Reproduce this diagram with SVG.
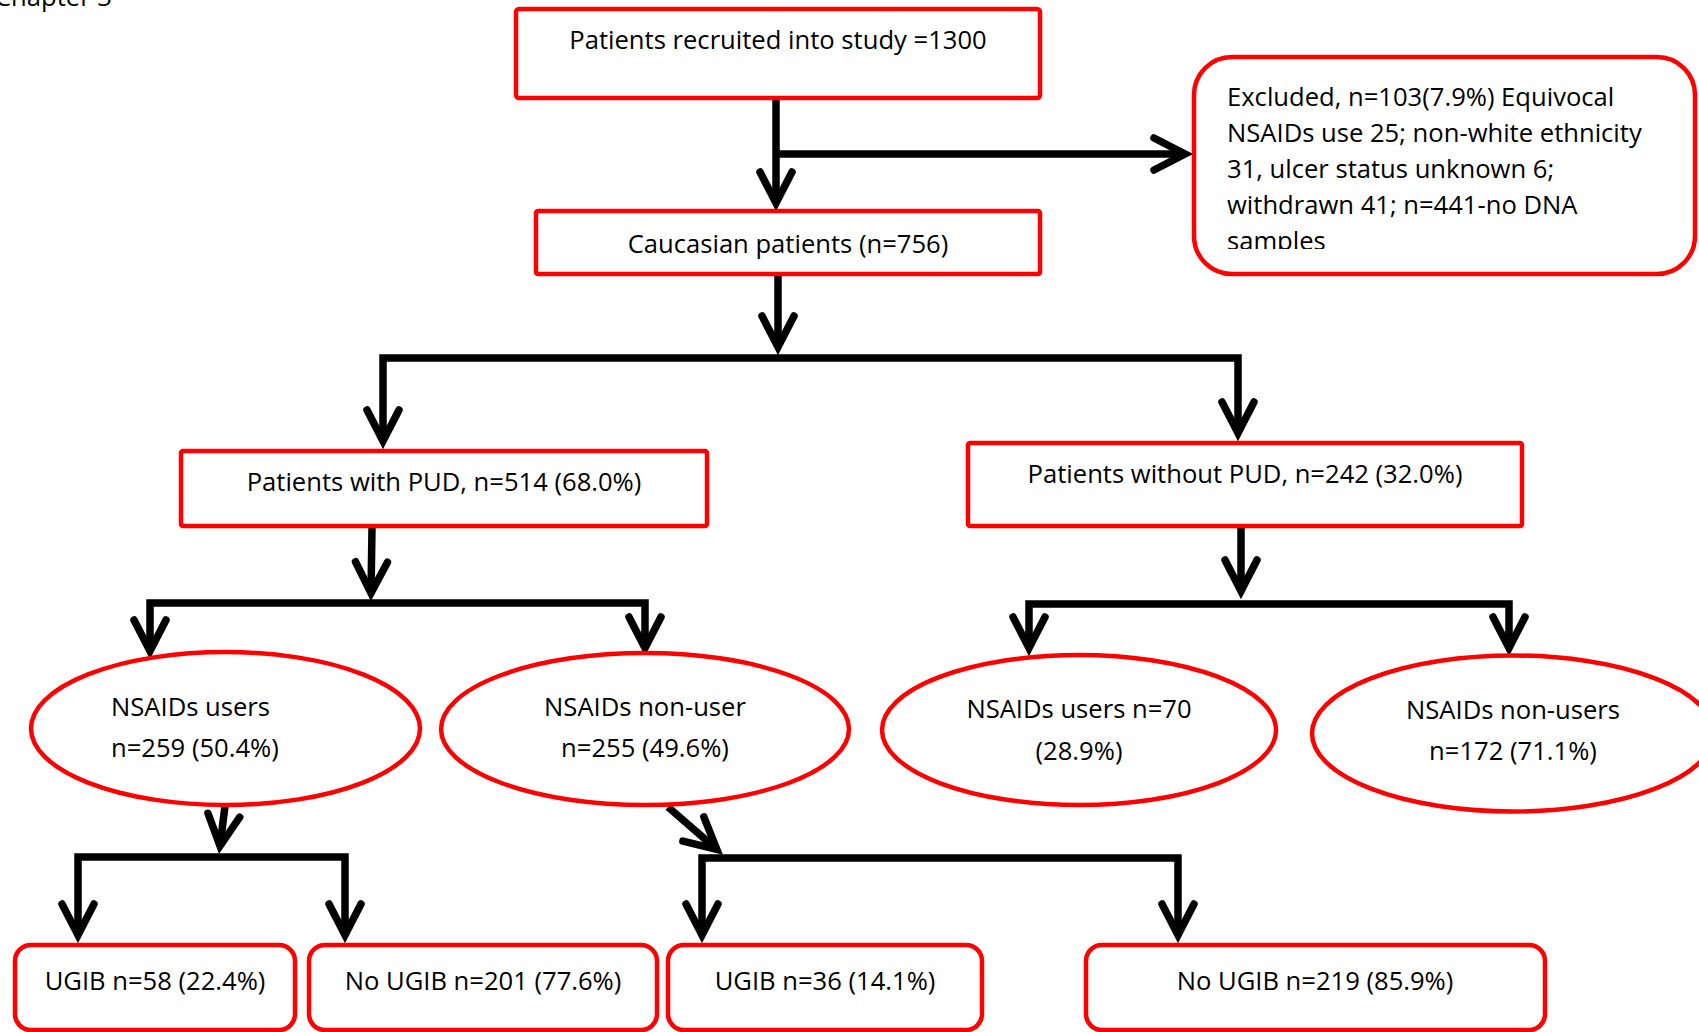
<svg xmlns="http://www.w3.org/2000/svg" width="1699" height="1032" viewBox="0 0 1699 1032">
<style>
.t{font-family:"Open Sans","Liberation Sans",sans-serif;font-size:25.6px;fill:#000}
.m{text-anchor:middle}
.box{fill:#fff;stroke:#ff0000;stroke-width:4.5}
.conn{fill:none;stroke:#000;stroke-width:7.5;stroke-linejoin:miter;stroke-linecap:butt}
</style>
<defs>
<marker id="ah" markerUnits="userSpaceOnUse" markerWidth="80" markerHeight="80" viewBox="-40 -40 80 80" refX="0" refY="0" orient="auto-start-reverse" overflow="visible">
<path d="M-31,-16 L0,0 L-31,16" fill="none" stroke="#000" stroke-width="7.5" stroke-linecap="round" stroke-linejoin="miter"/>
</marker>
<clipPath id="exclip"><rect x="1190" y="50" width="509" height="199"/></clipPath>
</defs>
<rect width="1699" height="1032" fill="#fff"/>
<text class="t" x="-5" y="6">Chapter 3</text>

<g id="connectors">
<path class="conn" d="M776,99 V203" marker-end="url(#ah)"/>
<path class="conn" d="M776,154 H1185" marker-end="url(#ah)"/>
<path class="conn" d="M778,276 V347" marker-end="url(#ah)"/>
<path class="conn" d="M383,441 V358 H1238 V433" marker-start="url(#ah)" marker-end="url(#ah)"/>
<path class="conn" d="M372,528 L371,593" marker-end="url(#ah)"/>
<path class="conn" d="M150,651 V603 H645 V648" marker-start="url(#ah)" marker-end="url(#ah)"/>
<path class="conn" d="M1241,528 V591" marker-end="url(#ah)"/>
<path class="conn" d="M1029,648 V604 H1509 V648" marker-start="url(#ah)" marker-end="url(#ah)"/>
<path class="conn" d="M225,806 L220,846" marker-end="url(#ah)"/>
<path class="conn" d="M78,935 V857 H345 V935" marker-start="url(#ah)" marker-end="url(#ah)"/>
<path class="conn" d="M668,807 L716.8,849.3" marker-end="url(#ah)"/>
<path class="conn" d="M702,935 V858 H1178 V935" marker-start="url(#ah)" marker-end="url(#ah)"/>
</g>

<g id="recruited">
<rect class="box" x="516" y="9" width="524" height="89" rx="3"/>
<text class="t m" x="778" y="49">Patients recruited into study =1300</text>
</g>
<g id="excluded">
<rect class="box" x="1194" y="57" width="501" height="217" rx="38"/>
<g clip-path="url(#exclip)">
<text class="t" x="1227" y="106">Excluded, n=103(7.9%) Equivocal</text>
<text class="t" x="1227" y="142">NSAIDs use 25; non-white ethnicity</text>
<text class="t" x="1227" y="178">31, ulcer status unknown 6;</text>
<text class="t" x="1227" y="214">withdrawn 41; n=441-no DNA</text>
<text class="t" x="1227" y="250">samples</text>
</g>
</g>
<g id="caucasian">
<rect class="box" x="536" y="211" width="504" height="63" rx="2"/>
<text class="t m" x="788" y="253">Caucasian patients (n=756)</text>
</g>
<g id="pud">
<rect class="box" x="181" y="451" width="526" height="75" rx="2"/>
<text class="t m" x="444" y="491">Patients with PUD, n=514 (68.0%)</text>
</g>
<g id="nopud">
<rect class="box" x="968" y="443" width="554" height="83" rx="2"/>
<text class="t m" x="1245" y="483">Patients without PUD, n=242 (32.0%)</text>
</g>
<g id="pud-users">
<ellipse class="box" cx="225.5" cy="728.5" rx="194.5" ry="76.5"/>
<text class="t" x="111" y="716">NSAIDs users</text>
<text class="t" x="111" y="757">n=259 (50.4%)</text>
</g>
<g id="pud-nonusers">
<ellipse class="box" cx="645" cy="729" rx="204" ry="76"/>
<text class="t m" x="645" y="716">NSAIDs non-user</text>
<text class="t m" x="645" y="757">n=255 (49.6%)</text>
</g>
<g id="nopud-users">
<ellipse class="box" cx="1079" cy="730" rx="197" ry="75"/>
<text class="t m" x="1079" y="718">NSAIDs users n=70</text>
<text class="t m" x="1079" y="760">(28.9%)</text>
</g>
<g id="nopud-nonusers">
<ellipse class="box" cx="1513" cy="733.5" rx="201" ry="78"/>
<text class="t m" x="1513" y="719">NSAIDs non-users</text>
<text class="t m" x="1513" y="760">n=172 (71.1%)</text>
</g>
<g id="ugib1">
<rect class="box" x="15" y="945" width="280" height="85" rx="16"/>
<text class="t m" x="155" y="990">UGIB n=58 (22.4%)</text>
</g>
<g id="nougib1">
<rect class="box" x="309" y="945" width="348" height="85" rx="16"/>
<text class="t m" x="483" y="990">No UGIB n=201 (77.6%)</text>
</g>
<g id="ugib2">
<rect class="box" x="668" y="945" width="314" height="85" rx="16"/>
<text class="t m" x="825" y="990">UGIB n=36 (14.1%)</text>
</g>
<g id="nougib2">
<rect class="box" x="1086" y="945" width="459" height="85" rx="16"/>
<text class="t m" x="1315" y="990">No UGIB n=219 (85.9%)</text>
</g>
</svg>
